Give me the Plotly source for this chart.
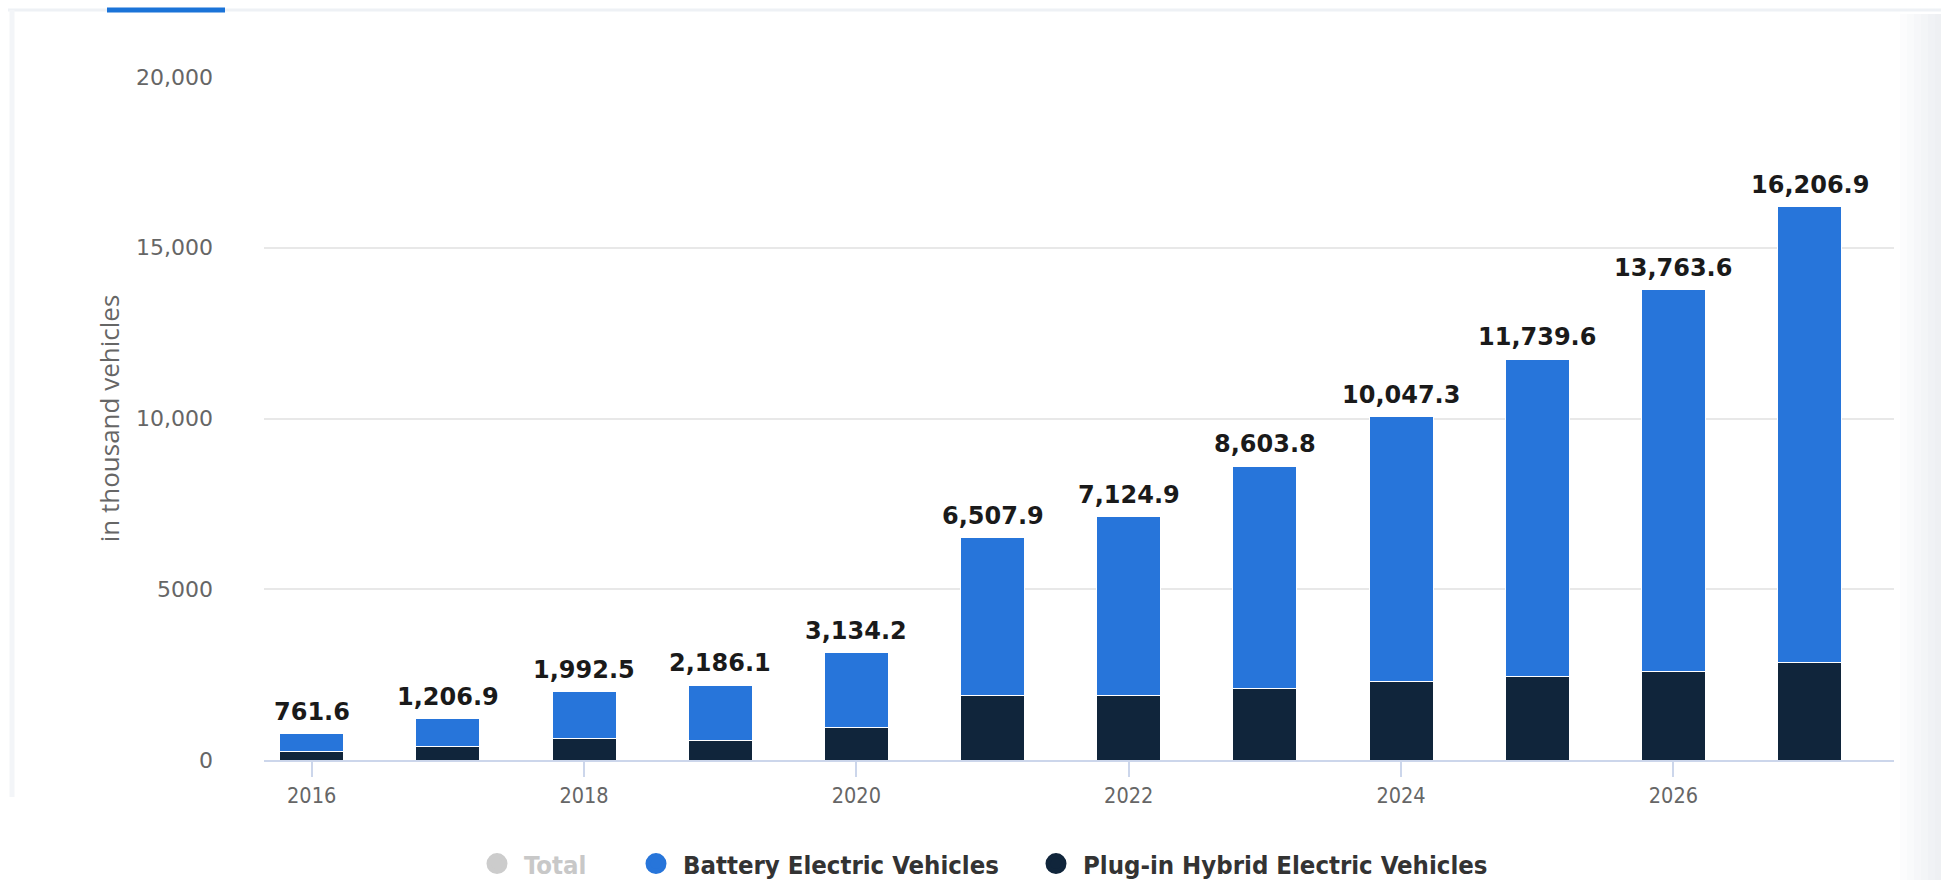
import plotly.graph_objects as go

# Electric vehicle sales, in thousand vehicles
years = [2016, 2017, 2018, 2019, 2020, 2021, 2022, 2023, 2024, 2025, 2026, 2027]
totals = [761.6, 1206.9, 1992.5, 2186.1, 3134.2, 6507.9, 7124.9, 8603.8,
          10047.3, 11739.6, 13763.6, 16206.9]
phev = [245, 385, 640, 575, 965, 1900, 1900, 2095, 2290, 2440, 2605, 2860]
bev = [round(t - p, 1) for t, p in zip(totals, phev)]

y_ticks = [0, 5000, 10000, 15000, 20000]
y_tick_text = ["0", "5000", "10,000", "15,000", "20,000"]
x_ticks = [2016, 2018, 2020, 2022, 2024, 2026]

BLUE = "#2775da"
NAVY = "#10253b"
GREY = "#cccccc"
NARROW = "Liberation Sans Narrow, DejaVu Sans Condensed, Roboto Condensed, sans-serif"

W, H = 1941, 880
L, R, T, B = 264, 47, 77, 120
PW, PH = W - L - R, H - T - B


def px_x(p):
    return (p - L) / PW


def px_y(p):
    return (H - B - p) / PH


fig = go.Figure()

fig.add_trace(go.Bar(x=years, y=phev, name="Plug-in Hybrid Electric Vehicles",
                     marker=dict(color=NAVY, line=dict(color="#ffffff", width=1)),
                     showlegend=False))
fig.add_trace(go.Bar(x=years, y=bev, name="Battery Electric Vehicles",
                     marker=dict(color=BLUE, line=dict(color="#ffffff", width=1)),
                     showlegend=False))

# legend entries drawn as round markers, one legend box per entry
legend_items = [
    ("<span style='color:#c8c8c8'>Total</span>", GREY, "legend", 470),
    ("Battery Electric Vehicles", BLUE, "legend2", 629),
    ("Plug-in Hybrid Electric Vehicles", NAVY, "legend3", 1029),
]
legend_layout = {}
for name, col, key, left in legend_items:
    fig.add_trace(go.Scatter(x=[None], y=[None], mode="markers", name=name,
                             legend=key,
                             marker=dict(color=col, size=16, symbol="circle",
                                         line=dict(color=col, width=5))))
    legend_layout[key] = dict(
        orientation="h", xref="container", yref="container",
        x=left / W, xanchor="left", y=1 - 864 / H, yanchor="middle",
        itemwidth=44, bgcolor="rgba(0,0,0,0)",
        font=dict(family=NARROW, size=25.5, color="#333333", weight="bold"),
        itemclick=False, itemdoubleclick=False,
    )

# value labels above each stacked column
annotations = [
    dict(x=x, y=t, xref="x", yref="y", text=f"{t:,.1f}", showarrow=False,
         yanchor="bottom", yshift=6,
         font=dict(family="DejaVu Sans", size=24, color="#1a1a1a", weight="bold"))
    for x, t in zip(years, totals)
]

shapes = [
    # card outline at the top and left
    dict(type="line", xref="paper", yref="paper", x0=px_x(8), x1=px_x(1941),
         y0=px_y(10), y1=px_y(10), line=dict(color="#eef1f5", width=3)),
    dict(type="line", xref="paper", yref="paper", x0=px_x(12), x1=px_x(12),
         y0=px_y(10), y1=px_y(797), line=dict(color="#f3f5f8", width=5)),
    # active tab marker
    dict(type="line", xref="paper", yref="paper", x0=px_x(107), x1=px_x(225),
         y0=px_y(10), y1=px_y(10), line=dict(color="#1a73d8", width=5)),
]
# soft shade along the right edge
shade = ["#fcfcfd", "#f9fafb", "#f6f7f9", "#f3f5f7", "#f0f2f5", "#eef0f3"]
for i, c in enumerate(shade):
    x0 = 1900 + i * 7
    shapes.append(dict(type="rect", xref="paper", yref="paper",
                       x0=px_x(x0), x1=px_x(x0 + 7 if i < len(shade) - 1 else 1941),
                       y0=px_y(880), y1=px_y(14), line=dict(width=0),
                       fillcolor=c, layer="below"))

fig.update_layout(
    width=W, height=H,
    margin=dict(l=L, r=R, t=T, b=B, pad=0, autoexpand=False),
    paper_bgcolor="#ffffff", plot_bgcolor="#ffffff",
    barmode="stack", bargap=0.53,
    showlegend=True,
    annotations=annotations,
    shapes=shapes,
    xaxis=dict(
        range=[2015.65, 2027.62], tickvals=x_ticks, ticktext=[str(v) for v in x_ticks],
        showgrid=False, zeroline=False,
        showline=True, linecolor="#ccd6eb", linewidth=1.5,
        ticks="outside", ticklen=15, tickcolor="#ccd6eb", tickwidth=1.5,
        tickfont=dict(family=NARROW, size=21.5, color="#666666"),
    ),
    yaxis=dict(
        range=[0, 20000], tickvals=y_ticks, ticktext=y_tick_text,
        showgrid=True, gridcolor="#e8e8e8", gridwidth=1.5, zeroline=False,
        showline=False, ticks="", ticklabelstandoff=50,
        tickfont=dict(family="DejaVu Sans", size=22, color="#666666"),
        title=dict(text="in thousand vehicles", standoff=8,
                   font=dict(family="Open Sans", size=26, color="#666666")),
    ),
    **legend_layout,
)

fig.write_html("out.html")
